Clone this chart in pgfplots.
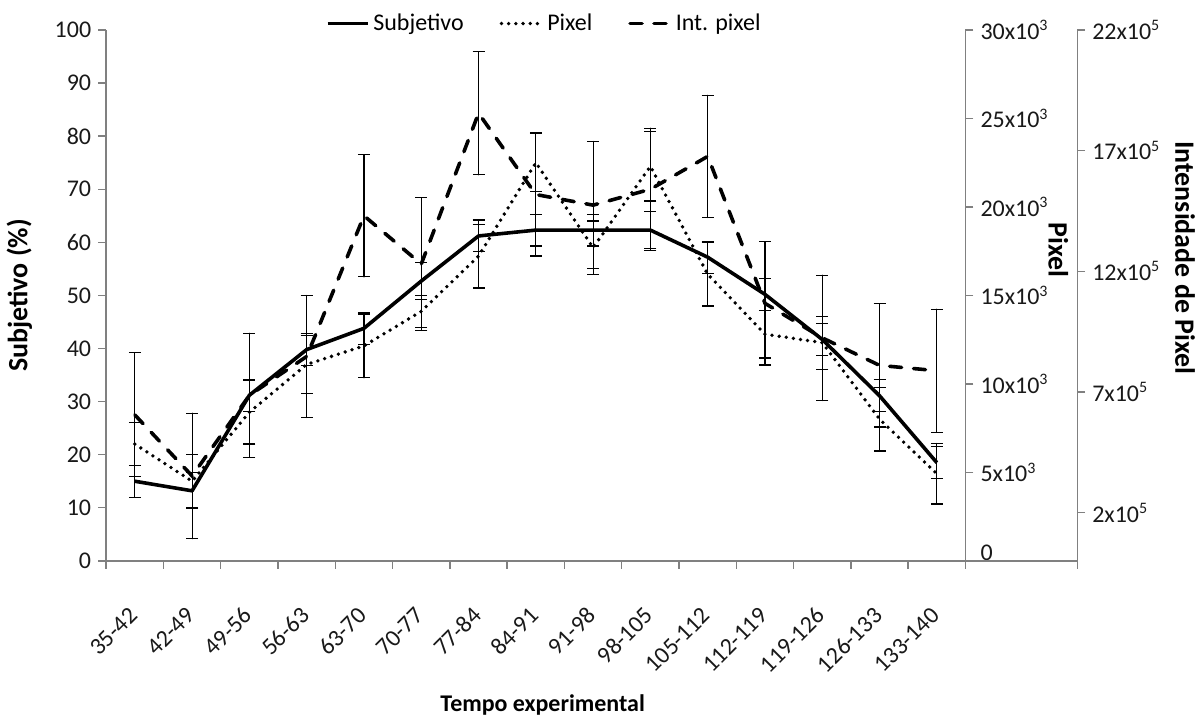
\documentclass[border=0pt]{standalone}
\usepackage{fontspec}
\setmainfont{Carlito}
\usepackage{pgfplots}
\usepackage{pgfplotstable}
\pgfplotsset{compat=1.18}

\pgfplotstableread{
x y e
0 15.0 3
1 13.2 3.4
2 31.2 3
3 39.8 3
4 43.8 3
5 52.7 3.5
6 61.2 3
7 62.3 3
8 62.3 3
9 62.3 3.5
10 57.2 3
11 50.2 3
12 41.7 3
13 31.1 3
14 18.5 3
}\subj

\pgfplotstableread{
x y e
0 6600 1200
1 4500 1500
2 8400 1800
3 11100 1650
4 12150 1800
5 14100 900
6 17220 1800
7 22500 1650
8 17700 1500
9 22290 1950
10 16200 1800
11 12810 1350
12 12330 1500
13 8010 1800
14 4920 1710
}\pix

\pgfplotstableread{
x y e
0 6.05 2.57
1 3.52 2.60
2 6.86 2.57
3 8.47 2.53
4 14.30 2.53
5 12.30 2.75
6 18.55 2.55
7 15.18 2.55
8 14.74 2.64
9 15.40 2.53
10 16.76 2.53
11 10.67 2.55
12 9.24 2.60
13 8.10 2.55
14 7.88 2.55
}\intpix

\begin{document}
\begin{tikzpicture}
\path (0,0) rectangle (601pt,359.5pt);
\pgfplotsset{
  common/.style={
    scale only axis, width=430.5pt, height=266pt,
    at={(52pt,78.5pt)}, anchor=south west,
    xmin=-0.5, xmax=14.5, ymin=0,
    tick align=outside, major tick length=4pt, minor tick length=4pt,
    axis line style={draw=gray, line width=0.7pt},
    every tick/.style={draw=gray, line width=0.7pt},
    ticklabel style={font=\fontsize{12}{14}\selectfont, text=black!90},
    /pgf/number format/assume math mode=true,
    clip=false,
  },
  eb/.style={error bars/.cd, y dir=both, y explicit,
    error bar style={solid, line width=0.6pt, black},
    error mark options={solid, black, line width=0.6pt, mark size=3pt, rotate=90}},
  subjst/.style={black, line width=1.8pt, line join=round},
  pixst/.style={black, line width=1.9pt, dash pattern=on 0pt off 3.6pt, line cap=round},
  intst/.style={black, line width=1.8pt, dash pattern=on 6pt off 6pt, line cap=round},
}
% main axis
\begin{axis}[common, ymax=100, ytick={0,10,...,100},
  axis x line*=bottom, axis y line*=left,
  xtick={0,...,14},
  xticklabels={35-42,42-49,49-56,56-63,63-70,70-77,77-84,84-91,91-98,98-105,105-112,112-119,119-126,126-133,133-140},
  major x tick style={draw=none},
  minor xtick={-0.5,0.5,...,14.5},
  xticklabel style={rotate=45, anchor=east, xshift=-12.2pt, yshift=-14.6pt},
  ylabel={\textbf{Subjetivo (\%)}},
  ylabel style={at={(axis description cs:-0.101,0.5)}, anchor=center, font=\fontsize{14}{16}\selectfont},
  xlabel={\textbf{Tempo experimental}},
  xlabel style={at={(axis description cs:0.508,-0.271)}, anchor=center, font=\fontsize{12}{14}\selectfont},
  legend columns=3,
  legend style={at={(axis description cs:0.511,1.012)}, anchor=center, draw=none, fill=none,
    font=\fontsize{12}{14}\selectfont, /tikz/every even column/.append style={column sep=16pt}},
  legend image code/.code={\draw[#1] (0pt,0pt) -- (20pt,0pt);},
]
\addplot[subjst, forget plot, eb] table[x=x, y=y, y error=e] {\subj};
\addlegendimage{subjst}
\addlegendentry{Subjetivo}
\addlegendimage{pixst}
\addlegendentry{Pixel}
\addlegendimage{intst}
\addlegendentry{Int. pixel}
\end{axis}
% pixel axis
\begin{axis}[common, ymax=30000,
  axis x line=none, axis y line*=right,
  ytick={0,5000,10000,15000,20000,25000,30000},
  yticklabels={\raisebox{8pt}{0},5x10\textsuperscript{3},10x10\textsuperscript{3},15x10\textsuperscript{3},20x10\textsuperscript{3},25x10\textsuperscript{3},30x10\textsuperscript{3}},
  scaled y ticks=false,
  yticklabel style={anchor=west},
  ylabel={\textbf{Pixel}},
  ylabel style={at={(axis description cs:1.108,0.586)}, anchor=center, rotate=180, font=\fontsize{14}{16}\selectfont},
]
\addplot[pixst, eb] table[x=x, y=y, y error=e] {\pix};
\end{axis}
% intensity axis
\begin{axis}[common, width=486.5pt, xmax=16.45, ymax=22,
  axis x line*=bottom, axis y line*=right,
  xtick={16.45}, xticklabels={},
  ytick={2,7,12,17,22},
  yticklabels={2x10\textsuperscript{5},7x10\textsuperscript{5},12x10\textsuperscript{5},17x10\textsuperscript{5},22x10\textsuperscript{5}},
  yticklabel style={anchor=west},
  ylabel={\textbf{Intensidade de Pixel}},
  ylabel style={at={(axis description cs:1.111,0.571)}, anchor=center, rotate=180, font=\fontsize{14}{16}\selectfont},
]
\addplot[intst, eb] table[x=x, y=y, y error=e] {\intpix};
\end{axis}
\end{tikzpicture}
\end{document}
